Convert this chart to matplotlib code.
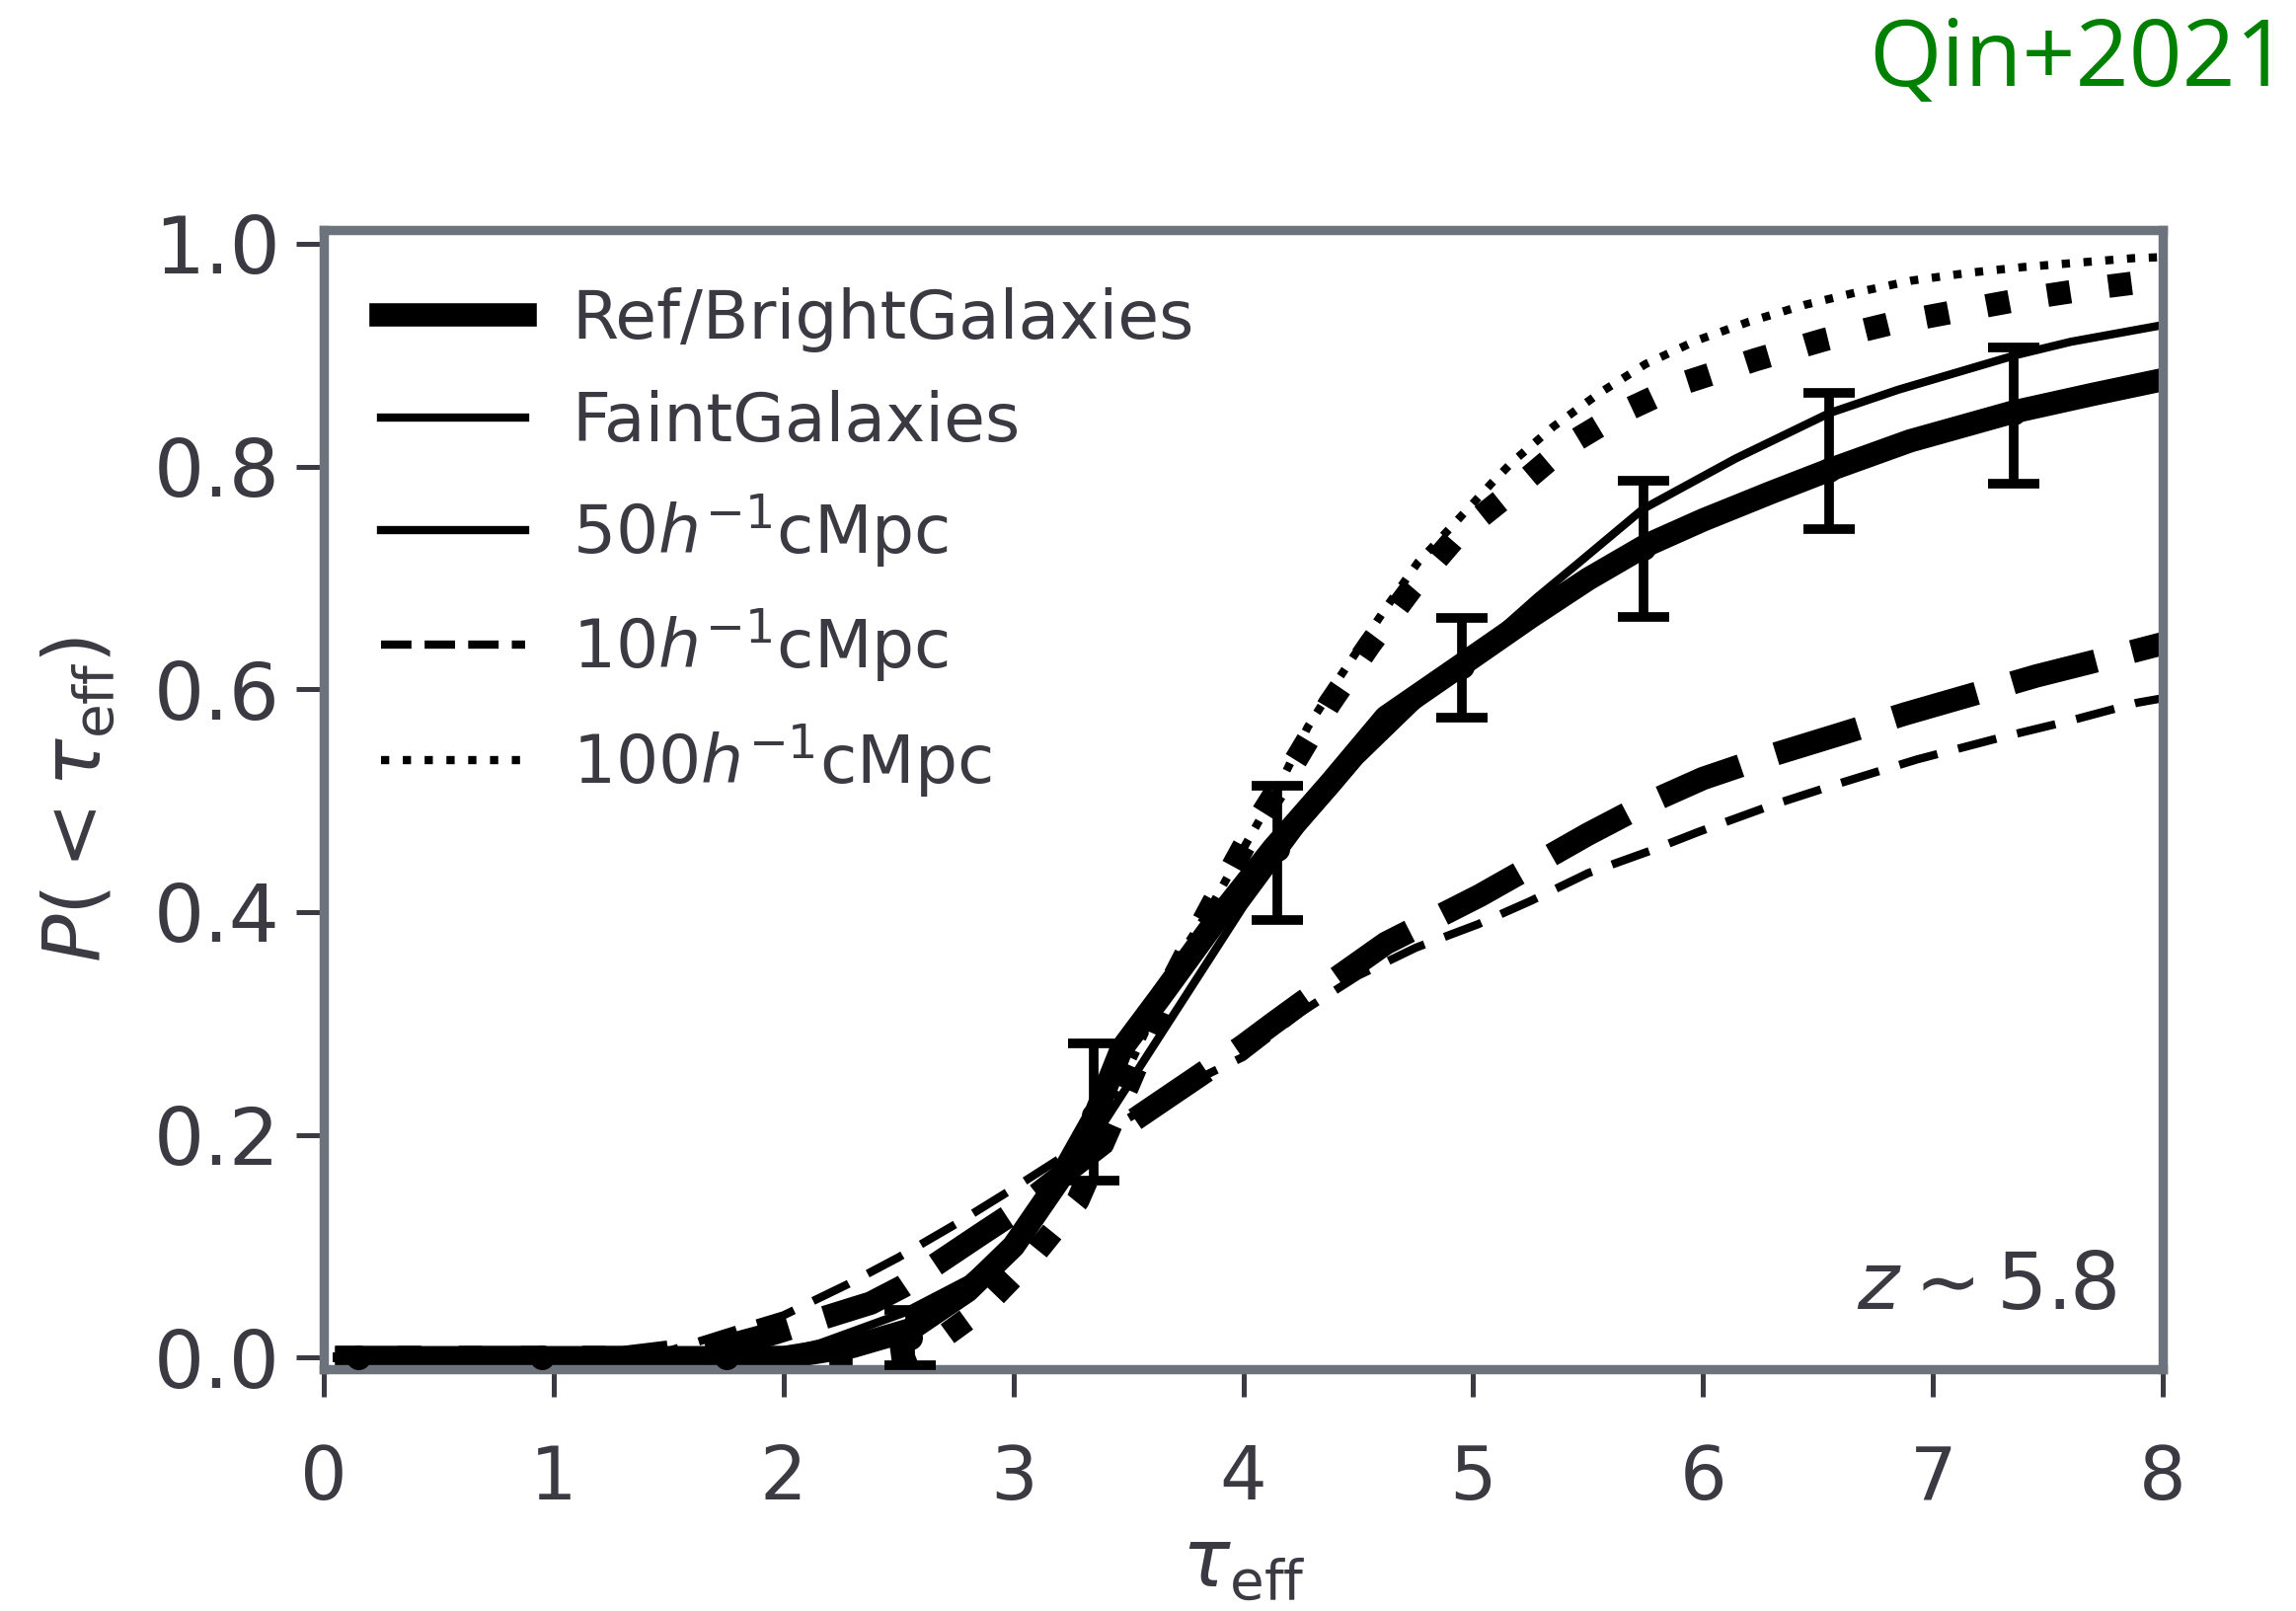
import numpy as np
import matplotlib.pyplot as plt
from matplotlib.lines import Line2D

# cumulative tau_eff distributions at z~5.8
ref50_tau = [0.05, 1.0, 2.0, 2.3, 2.55, 2.8, 3.0, 3.2, 3.35, 3.47, 3.64, 3.88, 4.13, 4.38, 4.62, 4.95, 5.25, 5.5, 5.75, 6.0, 6.3, 6.55, 6.9, 7.35, 7.7, 8.0]
ref50_p = [0.0, 0.0, 0.0, 0.01, 0.025, 0.06, 0.10, 0.16, 0.215, 0.277, 0.324, 0.392, 0.457, 0.516, 0.575, 0.622, 0.665, 0.699, 0.729, 0.752, 0.777, 0.797, 0.823, 0.849, 0.865, 0.878]

faint50_tau = [0.05, 1.0, 1.9, 2.16, 2.52, 2.8, 3.0, 3.25, 3.5, 3.75, 4.0, 4.25, 4.5, 4.75, 4.95, 5.1, 5.28, 5.45, 5.74, 6.14, 6.55, 6.85, 7.36, 7.6, 8.0]
faint50_p = [0.0, 0.0, 0.0, 0.013, 0.04, 0.07, 0.105, 0.165, 0.245, 0.325, 0.405, 0.475, 0.535, 0.585, 0.622, 0.65, 0.683, 0.712, 0.762, 0.807, 0.848, 0.869, 0.9, 0.912, 0.927]

ref10_tau = [0.05, 1.0, 1.3, 1.78, 1.96, 2.38, 2.52, 2.86, 3.0, 3.25, 3.5, 3.75, 4.0, 4.13, 4.25, 4.62, 5.03, 5.21, 5.5, 5.75, 6.0, 6.3, 6.6, 6.88, 7.2, 7.45, 7.7, 8.0]
ref10_p = [0.0, 0.0, 0.0, 0.012, 0.022, 0.049, 0.064, 0.111, 0.13, 0.17, 0.21, 0.245, 0.28, 0.3, 0.318, 0.372, 0.415, 0.436, 0.47, 0.497, 0.52, 0.541, 0.56, 0.578, 0.597, 0.612, 0.625, 0.641]

faint10_tau = [0.05, 1.0, 1.2, 1.5, 1.84, 2.0, 2.28, 2.5, 2.75, 3.0, 3.25, 3.5, 3.75, 4.0, 4.25, 4.5, 4.75, 5.02, 5.25, 5.5, 5.77, 5.98, 6.3, 6.6, 6.93, 7.3, 7.6, 7.89, 8.0]
faint10_p = [0.0, 0.0, 0.0, 0.006, 0.028, 0.038, 0.066, 0.09, 0.12, 0.152, 0.185, 0.215, 0.245, 0.27, 0.31, 0.343, 0.368, 0.389, 0.41, 0.435, 0.455, 0.472, 0.496, 0.516, 0.537, 0.557, 0.572, 0.588, 0.592]

ref100_tau = [0.05, 1.0, 2.4, 2.55, 2.65, 2.87, 3.08, 3.28, 3.5, 3.7, 3.78, 3.92, 4.06, 4.23, 4.375, 4.55, 4.73, 4.93, 5.16, 5.4, 5.65, 5.93, 6.23, 6.53, 6.81, 7.12, 7.41, 7.73, 8.0]
ref100_p = [0.0, 0.0, 0.0, 0.004, 0.012, 0.045, 0.09, 0.141, 0.245, 0.342, 0.374, 0.428, 0.481, 0.537, 0.587, 0.64, 0.69, 0.738, 0.776, 0.818, 0.849, 0.876, 0.896, 0.914, 0.928, 0.94, 0.951, 0.961, 0.968]

faint100_tau = [0.05, 1.0, 2.0, 2.4, 2.7, 3.0, 3.25, 3.5, 3.74, 3.85, 4.0, 4.16, 4.28, 4.41, 4.62, 4.76, 4.91, 5.08, 5.17, 5.35, 5.55, 5.75, 5.97, 6.2, 6.44, 6.66, 6.91, 7.16, 7.39, 7.63, 7.87, 8.0]
faint100_p = [0.0, 0.0, 0.0, 0.01, 0.04, 0.095, 0.165, 0.26, 0.366, 0.401, 0.457, 0.515, 0.566, 0.608, 0.673, 0.714, 0.747, 0.785, 0.804, 0.836, 0.866, 0.892, 0.913, 0.93, 0.945, 0.956, 0.967, 0.974, 0.979, 0.983, 0.987, 0.988]

# observed CDF with errors
obs_tau = [0.15, 0.95, 1.75, 2.55, 3.35, 4.15, 4.95, 5.74, 6.55, 7.35]
obs_p = [0.0, 0.0, 0.0, 0.018, 0.217, 0.457, 0.621, 0.727, 0.797, 0.848]
obs_err_lo = [0.0, 0.0, 0.0, 0.025, 0.058, 0.064, 0.046, 0.062, 0.053, 0.063]
obs_err_hi = [0.0, 0.0, 0.0, 0.025, 0.065, 0.056, 0.043, 0.060, 0.069, 0.059]

legend_labels = ['Ref/BrightGalaxies', 'FaintGalaxies', r'$50h^{-1}$cMpc',
                 r'$10h^{-1}$cMpc', r'$100h^{-1}$cMpc']

text_c = '#3b3a42'
spine_c = '#6c737d'
lw_thick = 8.5
lw_thin = 3.0

plt.rcParams['font.family'] = 'DejaVu Sans'
plt.rcParams['mathtext.fontset'] = 'dejavusans'

fig = plt.figure(figsize=(11.63, 8.16), dpi=200)
ax = fig.add_axes([0.141, 0.150, 0.801, 0.707])

ax.plot(ref50_tau, ref50_p, color='k', lw=lw_thick, ls='-', solid_capstyle='butt')
ax.plot(ref10_tau, ref10_p, color='k', lw=lw_thick, ls='--')
ax.plot(ref100_tau, ref100_p, color='k', lw=lw_thick, ls=':')
ax.plot(faint50_tau, faint50_p, color='k', lw=lw_thin, ls='-', solid_capstyle='butt')
ax.plot(faint10_tau, faint10_p, color='k', lw=lw_thin, ls=(0, (4.8, 2.6)))
ax.plot(faint100_tau, faint100_p, color='k', lw=lw_thin, ls=':')

ax.errorbar(obs_tau, obs_p, yerr=[obs_err_lo, obs_err_hi], fmt='o', color='k',
            ms=8, elinewidth=3.5, capsize=9.5, capthick=3.5, zorder=5)

handles = [Line2D([], [], color='k', lw=lw_thick, ls='-'),
           Line2D([], [], color='k', lw=lw_thin, ls='-'),
           Line2D([], [], color='k', lw=lw_thin, ls='-'),
           Line2D([], [], color='k', lw=lw_thin, ls='--'),
           Line2D([], [], color='k', lw=lw_thin, ls=':')]
leg = ax.legend(handles, legend_labels, loc='upper left', frameon=False,
                fontsize=24.5, handlelength=2.15, handletextpad=0.7,
                labelspacing=0.55, borderaxespad=0.45)
for t in leg.get_texts():
    t.set_color(text_c)

ax.text(0.975, 0.038, r'$z\sim5.8$', transform=ax.transAxes, ha='right', va='bottom',
        fontsize=29, color=text_c)

ax.set_xlim(0, 8)
ax.set_ylim(-0.0105, 1.012)
ax.set_xticks(np.arange(0, 9, 1))
ax.set_yticks([0.0, 0.2, 0.4, 0.6, 0.8, 1.0])
ax.set_yticklabels(['0.0', '0.2', '0.4', '0.6', '0.8', '1.0'])
ax.tick_params(direction='out', length=10, width=1.8, colors=text_c)
ax.tick_params(axis='x', labelsize=27, pad=17)
ax.tick_params(axis='y', labelsize=29, pad=6)
for s in ax.spines.values():
    s.set_color(spine_c)
    s.set_linewidth(3.4)

ax.set_xlabel(r'$\tau_{\rm eff}$', fontsize=29, color=text_c, labelpad=4)
ax.set_ylabel(r'$P(<\tau_{\rm eff})$', fontsize=29, color=text_c, labelpad=13)

fig.text(0.997, 0.99, 'Qin+2021', ha='right', va='top', color='green',
         fontsize=34, family=['Open Sans', 'DejaVu Sans'])

fig.savefig('out.png', dpi=200)
